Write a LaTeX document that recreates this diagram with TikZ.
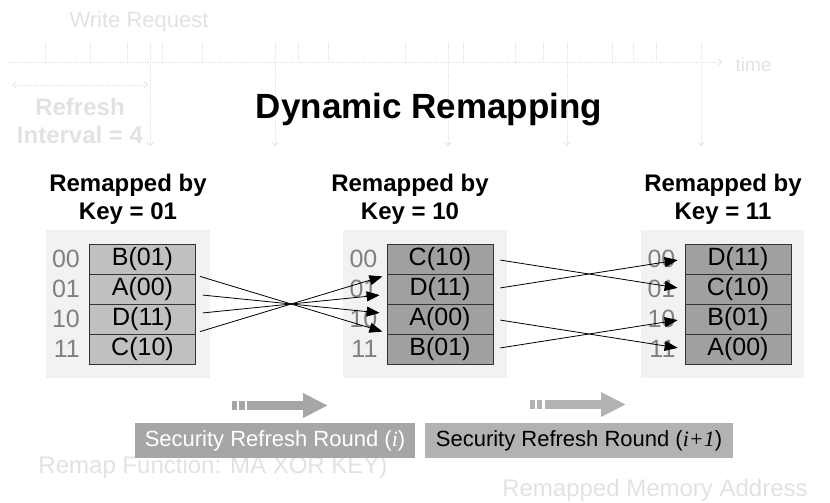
\documentclass[tikz,border=0pt]{standalone}
\usepackage{fontspec}
\setmainfont{Liberation Sans}
\newfontfamily\timesit{Liberation Serif}
\usetikzlibrary{arrows.meta,positioning}
\definecolor{panelgray}{HTML}{F2F2F2}
\definecolor{oldcell}{HTML}{C0C0C0}
\definecolor{newcell}{HTML}{A0A0A0}
\definecolor{addrgray}{HTML}{808080}
\definecolor{roundgray}{HTML}{A6A6A6}
\definecolor{nextgray}{HTML}{B2B2B2}
\definecolor{ghost}{HTML}{E2E2E2}

\begin{document}
\begin{tikzpicture}[x=1pt,y=-1pt,
  cell/.style={draw=black!80,line width=0.8pt,minimum width=106pt,minimum height=30pt,inner sep=0pt,font=\fontsize{25}{25}\selectfont},
  addr/.style={text=addrgray,inner sep=0pt,font=\fontsize{25}{25}\selectfont},
  heading/.style={align=center,font=\fontsize{24}{28}\selectfont\bfseries},
  map/.style={-{Triangle[length=13pt,width=10pt]},line width=0.8pt,shorten <=7pt,shorten >=7pt},
  roundbox/.style={minimum height=35pt,inner sep=0pt,font=\fontsize{22}{22}\selectfont},
  fat/.style={line width=9pt,-{Triangle[length=25pt,width=23pt]}},
  ghostline/.style={ghost,densely dotted,line width=0.8pt},
  ghosttext/.style={text=ghost,font=\fontsize{22}{22}\selectfont}]
  \useasboundingbox (0,0) rectangle (830,503);

  % faded timeline in the back
  \draw[ghostline,-{Straight Barb}] (8,62) -- (722,62);
  \foreach \x in {45,90,127,150,162,202,275,298,328,405,448,463,515,543,567,612,633,656,701}
    \draw[ghostline] (\x,42) -- (\x,62);
  \foreach \x in {150,275,448,567,701}
    \draw[ghostline,-{Straight Barb}] (\x,62) -- (\x,146);
  \node[ghosttext] (wreq) at (139,22) {Write Request};
  \node[ghosttext,anchor=west,font=\fontsize{19}{19}\selectfont] (time) at (732,65) {time};
  \draw[ghostline,{Straight Barb}-{Straight Barb}] (12,85) -- (148,85);
  \node[ghosttext,align=center,font=\fontsize{24}{28}\selectfont\bfseries] (rint) at (80,121) {Refresh\\Interval = 4};
  \node[ghosttext,font=\fontsize{24}{24}\selectfont] (remap) at (213,467) {Remap Function: MA XOR KEY)};
  \node[ghosttext,font=\fontsize{24}{24}\selectfont] (rma) at (655,490) {Remapped Memory Address};

  \node[font=\fontsize{35}{35}\selectfont\bfseries,anchor=base] (title) at (429,118) {Dynamic Remapping};

  % the three tables
  \fill[panelgray] (46,230) rectangle (210,378);
  \fill[panelgray] (343,230) rectangle (507,378);
  \fill[panelgray] (641,230) rectangle (804,378);

  \node[heading] (hl) at (128,199) {Remapped by\\Key = 01};
  \node[heading] (hm) at (410,199) {Remapped by\\Key = 10};
  \node[heading] (hr) at (723,199) {Remapped by\\Key = 11};

  \foreach \t [count=\i from 0] in {B(01),A(00),D(11),C(10)}
    \node[cell,fill=oldcell] (l\i) at (142.5,{259+30*\i}) {\t};
  \foreach \t [count=\i from 0] in {C(10),D(11),A(00),B(01)}
    \node[cell,fill=newcell] (m\i) at (440,{259+30*\i}) {\t};
  \foreach \t [count=\i from 0] in {D(11),C(10),B(01),A(00)}
    \node[cell,fill=newcell] (r\i) at (738,{259+30*\i}) {\t};

  \foreach \a [count=\i from 0] in {00,01,10,11} {
    \node[addr,left=9pt of l\i] (la\i) {\a};
    \node[addr,left=9pt of m\i] (ma\i) {\a};
    \node[addr,left=9pt of r\i] (ra\i) {\a};
  }

  \draw[map] (l0) -- (m3);
  \draw[map] (l1) -- (m2);
  \draw[map] (l2) -- (m1);
  \draw[map] (l3) -- (m0);
  \draw[map] (m0.east) -- (r1.west);
  \draw[map] (m1.east) -- (r0.west);
  \draw[map] (m2.east) -- (r3.west);
  \draw[map] (m3.east) -- (r2.west);

  % rounds
  \fill[roundgray] (232,401) rectangle (237,410);
  \fill[roundgray] (239,401) rectangle (245,410);
  \draw[fat,roundgray] (247,405.5) -- (328,405.5);
  \fill[nextgray] (530,400) rectangle (535,409);
  \fill[nextgray] (537,400) rectangle (542,409);
  \draw[fat,nextgray] (545,404.5) -- (626,404.5);

  \node[roundbox,fill=roundgray,text=white,minimum width=280pt] (cur) at (275,440.5) {Security Refresh Round ({\timesit\itshape i})};
  \node[roundbox,fill=nextgray,minimum width=308pt] (next) at (579,440.5) {Security Refresh Round ({\timesit\itshape i+1})};
\end{tikzpicture}
\end{document}
